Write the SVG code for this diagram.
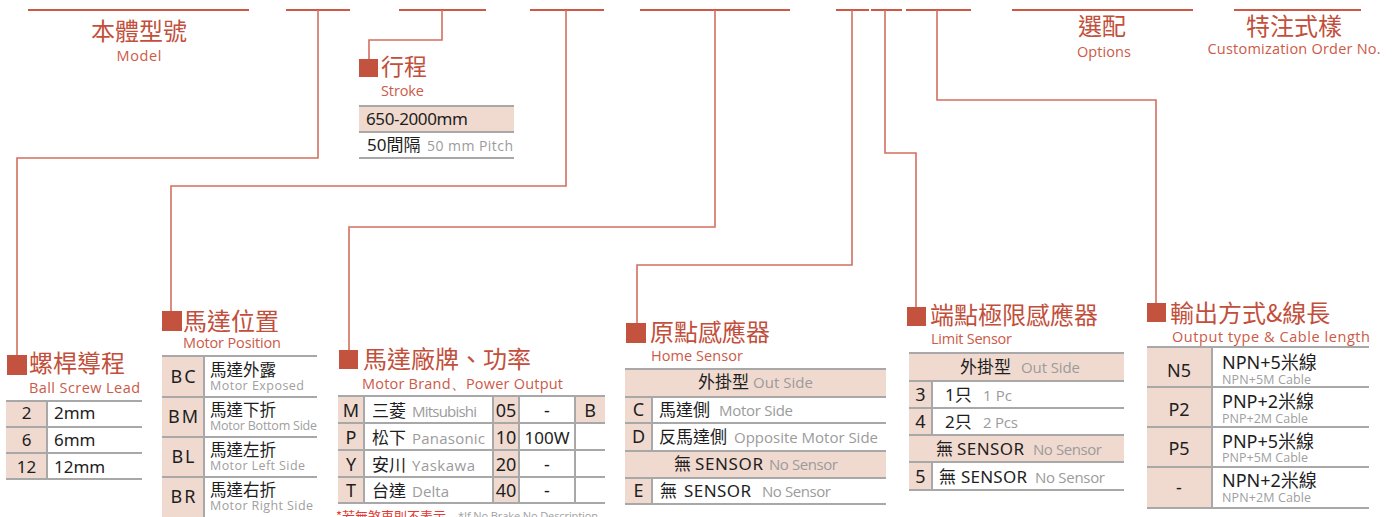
<svg xmlns="http://www.w3.org/2000/svg" width="1393" height="517" viewBox="0 0 1393 517">
<style>
text{font-family:"Noto Sans","Noto Sans CJK TC",sans-serif}
.ti{font-family:"Noto Sans CJK TC",sans-serif;font-size:24px;fill:#c24f3b}
.te{font-family:"Open Sans","Noto Sans",sans-serif;font-size:14.5px;fill:#cc5a48}
.sq{fill:#c3533f}
.pk{fill:#f0dad0}
.rl{stroke:#a8a8a8;stroke-width:2;fill:none}
.k{font-size:17px;fill:#1e1e1e}
.kc{font-family:"Noto Sans CJK TC",sans-serif;font-size:17px;fill:#1e1e1e}
.g{font-family:"Open Sans","Noto Sans",sans-serif;font-size:15px;fill:#9b9b9b}
.gs{font-family:"Open Sans","Noto Sans",sans-serif;font-size:12.5px;fill:#a0a0a0}
.hl{stroke:#cf5845;stroke-width:2}
.cn{fill:none;stroke:#d36f5f;stroke-width:1.6}
.m{text-anchor:middle}
</style>
<rect width="1393" height="517" fill="#ffffff"/>
<g id="header">
<path class="hl" d="M28 10H249M286 10H350M399 10H486M530 10H604M640 10H790M836 10H869M871 10H902M906 10H971M1012 10H1193M1234 10H1361"/>
<text class="ti m" x="139" y="40">本體型號</text>
<text class="te m" x="139" y="61" textLength="45">Model</text>
<text class="ti m" x="1102" y="35">選配</text>
<text class="te m" x="1104" y="57" textLength="54">Options</text>
<text class="ti m" x="1294" y="35">特注式樣</text>
<text class="te m" x="1294" y="54" textLength="173">Customization Order No.</text>
</g>
<g id="connectors">
<polyline class="cn" points="318,10 318,158 17,158 17,355"/>
<polyline class="cn" points="442,10 442,40 369,40 369,59"/>
<polyline class="cn" points="566,10 566,186 171,186 171,311"/>
<polyline class="cn" points="715,10 715,227 349,227 349,350"/>
<polyline class="cn" points="852,10 852,265 637,265 637,323"/>
<polyline class="cn" points="885,10 885,153 916,153 916,307"/>
<polyline class="cn" points="937,10 937,100 1156,100 1156,303"/>
</g>
<g id="stroke">
<rect class="sq" x="359" y="59" width="19" height="18"/>
<text class="ti" x="381" y="75" style="font-size:23px">行程</text>
<text class="te" x="381" y="96" textLength="43">Stroke</text>
<rect class="pk" x="359" y="106" width="155" height="26"/>
<path class="rl" d="M359 106H514M359 132H514M359 158H514"/>
<text class="k" x="366" y="125" textLength="102">650-2000mm</text>
<text class="k" x="367" y="151">50間隔</text>
<text class="g" x="427" y="151" textLength="86" style="font-size:14px">50 mm Pitch</text>
</g>
<g id="ball-screw-lead">
<rect class="sq" x="7" y="355" width="20" height="20"/>
<text class="ti" x="29" y="372">螺桿導程</text>
<text class="te" x="29" y="393" textLength="111">Ball Screw Lead</text>
<rect class="pk" x="6" y="401" width="41" height="78"/>
<path class="rl" d="M6 401H142M6 427H142M6 453H142M6 479H142M47 401V479"/>
<text class="k m" x="26.5" y="419">2</text><text class="k" x="54" y="419">2mm</text>
<text class="k m" x="26.5" y="446">6</text><text class="k" x="54" y="446">6mm</text>
<text class="k m" x="26.5" y="473">12</text><text class="k" x="54" y="473">12mm</text>
</g>
<g id="motor-position">
<rect class="sq" x="162" y="311" width="20" height="20"/>
<text class="ti" x="183" y="330">馬達位置</text>
<text class="te" x="183" y="348" textLength="98">Motor Position</text>
<rect class="pk" x="162" y="356" width="42" height="161"/>
<path class="rl" d="M162 356H317M162 397H317M162 437H317M162 477H317M204 356V517"/>
<g class="k" style="letter-spacing:2px;font-size:18px">
<text x="184" y="383" class="m">BC</text>
<text x="184" y="423" class="m">BM</text>
<text x="184" y="463" class="m">BL</text>
<text x="184" y="503" class="m">BR</text>
</g>
<text class="kc" x="210" y="376" style="font-size:16.5px">馬達外露</text><text class="gs" x="210" y="390" textLength="94">Motor Exposed</text>
<text class="kc" x="210" y="416" style="font-size:16.5px">馬達下折</text><text class="gs" x="210" y="430" textLength="107">Motor Bottom Side</text>
<text class="kc" x="210" y="456" style="font-size:16.5px">馬達左折</text><text class="gs" x="210" y="470" textLength="95">Motor Left Side</text>
<text class="kc" x="210" y="496" style="font-size:16.5px">馬達右折</text><text class="gs" x="210" y="510" textLength="103">Motor Right Side</text>
</g>
<g id="motor-brand">
<rect class="sq" x="339" y="350" width="19" height="19"/>
<text class="ti" x="363" y="368">馬達廠牌、功率</text>
<text class="te" x="362" y="389" textLength="201">Motor Brand、Power Output</text>
<rect class="pk" x="338" y="396" width="26" height="107"/>
<rect class="pk" x="493" y="396" width="26" height="107"/>
<rect class="pk" x="575" y="396" width="30" height="27"/>
<path class="rl" d="M338 396H605M338 423H605M338 450H605M338 477H605M338 503H605M364 396V503M493 396V503M519 396V503M575 396V503"/>
<g class="k" style="font-size:18px">
<text class="m" x="351" y="417">M</text><text class="m" x="351" y="444">P</text><text class="m" x="351" y="471">Y</text><text class="m" x="351" y="497">T</text>
<text class="m" x="506" y="417">05</text><text class="m" x="506" y="444">10</text><text class="m" x="506" y="471">20</text><text class="m" x="506" y="497">40</text>
<text class="m" x="547" y="417">-</text><text class="m" x="547" y="444" style="font-size:17px">100W</text><text class="m" x="547" y="471">-</text><text class="m" x="547" y="497">-</text>
<text class="m" x="590" y="417">B</text>
</g>
<text class="kc" x="372" y="417">三菱</text><text class="g" x="412" y="417" textLength="65">Mitsubishi</text>
<text class="kc" x="372" y="444">松下</text><text class="g" x="412" y="444" textLength="73">Panasonic</text>
<text class="kc" x="372" y="471">安川</text><text class="g" x="412" y="471" textLength="63">Yaskawa</text>
<text class="kc" x="372" y="497">台達</text><text class="g" x="412" y="497" textLength="37">Delta</text>
<text x="336" y="521" style="font-family:'Noto Sans CJK TC',sans-serif;font-size:13px;fill:#e23b36">*若無煞車則不表示</text>
<text class="gs" x="458" y="520" textLength="140" style="font-size:11px">*If No Brake No Description</text>
</g>
<g id="home-sensor">
<rect class="sq" x="626" y="323" width="20" height="20"/>
<text class="ti" x="650" y="341">原點感應器</text>
<text class="te" x="651" y="361" textLength="92">Home Sensor</text>
<rect class="pk" x="625" y="369" width="261" height="28"/>
<rect class="pk" x="625" y="451" width="261" height="27"/>
<rect class="pk" x="625" y="397" width="27" height="54"/>
<rect class="pk" x="625" y="478" width="27" height="26"/>
<path class="rl" d="M625 369H886M625 397H886M625 423H886M625 451H886M625 478H886M625 504H886M652 397V451M652 478V504"/>
<text class="kc" x="698" y="388">外掛型</text><text class="g" x="753" y="388" textLength="60">Out Side</text>
<text class="k m" x="638.5" y="416" style="font-size:18px">C</text><text class="kc" x="659" y="416">馬達側</text><text class="g" x="719" y="416" textLength="74">Motor Side</text>
<text class="k m" x="638.5" y="443" style="font-size:18px">D</text><text class="kc" x="659" y="443">反馬達側</text><text class="g" x="734" y="443" textLength="144">Opposite Motor Side</text>
<text class="kc" x="674" y="470">無</text><text class="k" x="695" y="470" textLength="68">SENSOR</text><text class="g" x="769" y="470" textLength="69">No Sensor</text>
<text class="k m" x="638.5" y="497" style="font-size:18px">E</text><text class="kc" x="660" y="497">無</text><text class="k" x="684" y="497" textLength="67">SENSOR</text><text class="g" x="762" y="497" textLength="69">No Sensor</text>
</g>
<g id="limit-sensor">
<rect class="sq" x="907" y="307" width="19" height="19"/>
<text class="ti" x="930" y="324">端點極限感應器</text>
<text class="te" x="931" y="344" textLength="81">Limit Sensor</text>
<rect class="pk" x="909" y="353" width="215" height="28"/>
<rect class="pk" x="909" y="435" width="215" height="27"/>
<rect class="pk" x="909" y="381" width="23" height="54"/>
<rect class="pk" x="909" y="462" width="23" height="28"/>
<path class="rl" d="M909 353H1124M909 381H1124M909 408H1124M909 435H1124M909 462H1124M909 490H1124M932 381V435M932 462V490"/>
<text class="kc" x="960" y="373">外掛型</text><text class="g" x="1021" y="373" textLength="59">Out Side</text>
<text class="k m" x="920.5" y="401" style="font-size:18px">3</text><text class="k" x="945" y="401">1只</text><text class="g" x="983" y="401" textLength="29">1 Pc</text>
<text class="k m" x="920.5" y="428" style="font-size:18px">4</text><text class="k" x="945" y="428">2只</text><text class="g" x="983" y="428" textLength="35">2 Pcs</text>
<text class="kc" x="936" y="455">無</text><text class="k" x="957" y="455" textLength="67">SENSOR</text><text class="g" x="1033" y="455" textLength="69">No Sensor</text>
<text class="k m" x="920.5" y="483" style="font-size:18px">5</text><text class="kc" x="939" y="483">無</text><text class="k" x="961" y="483" textLength="66">SENSOR</text><text class="g" x="1035" y="483" textLength="70">No Sensor</text>
</g>
<g id="output-type">
<rect class="sq" x="1147" y="303" width="19" height="19"/>
<text class="ti" x="1170" y="322">輸出方式&amp;線長</text>
<text class="te" x="1172" y="342" textLength="198">Output type &amp; Cable length</text>
<rect class="pk" x="1147" y="347" width="65" height="161"/>
<path class="rl" d="M1147 347H1369M1147 387H1369M1147 427H1369M1147 467H1369M1147 508H1369M1212 347V508"/>
<g class="k" style="font-size:18px">
<text class="m" x="1179" y="377">N5</text>
<text class="m" x="1179" y="416">P2</text>
<text class="m" x="1179" y="455">P5</text>
<text class="m" x="1179" y="494">-</text>
<text x="1222" y="369">NPN+5米線</text>
<text x="1222" y="408">PNP+2米線</text>
<text x="1222" y="448">PNP+5米線</text>
<text x="1222" y="487">NPN+2米線</text>
</g>
<text class="gs" x="1222" y="384" textLength="89">NPN+5M Cable</text>
<text class="gs" x="1222" y="423" textLength="86">PNP+2M Cable</text>
<text class="gs" x="1222" y="462" textLength="86">PNP+5M Cable</text>
<text class="gs" x="1222" y="502" textLength="89">NPN+2M Cable</text>
</g>
</svg>
